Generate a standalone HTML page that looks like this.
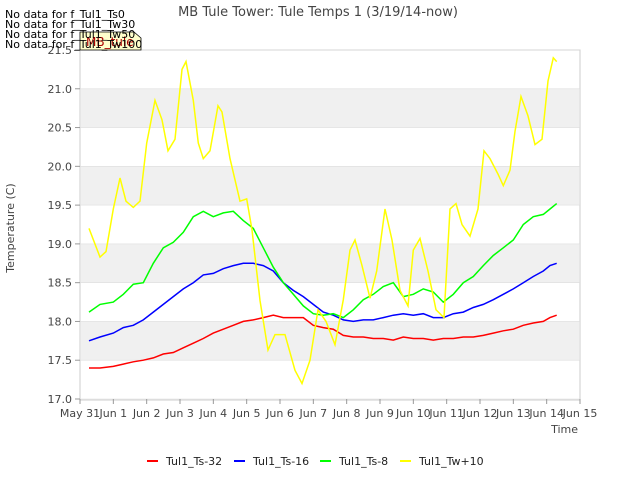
<!DOCTYPE html>
<html><head><meta charset="utf-8"><style>
body{margin:0;background:#fff;font-family:"Liberation Sans","DejaVu Sans",sans-serif;}
svg text{font-family:"DejaVu Sans","Liberation Sans",sans-serif;}
</style></head><body>
<svg id="c" width="640" height="480" xmlns="http://www.w3.org/2000/svg"></svg>
<script>
const yTicks=[17.0,17.5,18.0,18.5,19.0,19.5,20.0,20.5,21.0,21.5];
const xTickLabels=["May 31","Jun 1","Jun 2","Jun 3","Jun 4","Jun 5","Jun 6","Jun 7","Jun 8","Jun 9","Jun 10","Jun 11","Jun 12","Jun 13","Jun 14","Jun 15"];
const tSoil=[0.27,0.6,1.0,1.3,1.6,1.9,2.2,2.5,2.8,3.1,3.4,3.7,4.0,4.3,4.6,4.9,5.2,5.5,5.8,6.1,6.4,6.7,7.0,7.3,7.6,7.9,8.2,8.5,8.8,9.1,9.4,9.7,10.0,10.3,10.6,10.9,11.2,11.5,11.8,12.1,12.4,12.7,13.0,13.3,13.6,13.9,14.1,14.3];
const ts32=[17.4,17.4,17.42,17.45,17.48,17.5,17.53,17.58,17.6,17.66,17.72,17.78,17.85,17.9,17.95,18.0,18.02,18.05,18.08,18.05,18.05,18.05,17.95,17.92,17.9,17.82,17.8,17.8,17.78,17.78,17.76,17.8,17.78,17.78,17.76,17.78,17.78,17.8,17.8,17.82,17.85,17.88,17.9,17.95,17.98,18.0,18.05,18.08];
const ts16=[17.75,17.8,17.85,17.92,17.95,18.02,18.12,18.22,18.32,18.42,18.5,18.6,18.62,18.68,18.72,18.75,18.75,18.72,18.65,18.5,18.4,18.32,18.22,18.12,18.08,18.02,18.0,18.02,18.02,18.05,18.08,18.1,18.08,18.1,18.05,18.05,18.1,18.12,18.18,18.22,18.28,18.35,18.42,18.5,18.58,18.65,18.72,18.75];
const ts8=[18.12,18.22,18.25,18.35,18.48,18.5,18.75,18.95,19.02,19.15,19.35,19.42,19.35,19.4,19.42,19.3,19.2,18.95,18.7,18.5,18.35,18.2,18.1,18.08,18.1,18.05,18.15,18.28,18.35,18.45,18.5,18.32,18.35,18.42,18.38,18.25,18.35,18.5,18.58,18.72,18.85,18.95,19.05,19.25,19.35,19.38,19.45,19.52];
const tWater=[0.27,0.6,0.78,1.0,1.2,1.38,1.6,1.8,2.0,2.25,2.46,2.64,2.85,3.06,3.18,3.4,3.55,3.7,3.9,4.14,4.26,4.5,4.8,5.0,5.16,5.4,5.64,5.85,6.15,6.45,6.66,6.9,7.14,7.38,7.65,7.9,8.1,8.25,8.46,8.7,8.9,9.15,9.36,9.6,9.84,10.0,10.2,10.44,10.68,10.92,11.1,11.28,11.46,11.7,11.94,12.12,12.3,12.54,12.7,12.9,13.05,13.23,13.44,13.65,13.86,14.04,14.2,14.3];
const tw10=[19.2,18.83,18.9,19.45,19.85,19.55,19.47,19.55,20.3,20.85,20.6,20.2,20.35,21.25,21.35,20.85,20.3,20.1,20.2,20.78,20.7,20.1,19.55,19.58,19.18,18.27,17.63,17.83,17.83,17.37,17.2,17.5,18.15,18.0,17.7,18.28,18.92,19.05,18.72,18.3,18.65,19.45,19.05,18.4,18.2,18.92,19.07,18.65,18.15,18.05,19.45,19.52,19.25,19.1,19.45,20.2,20.1,19.9,19.75,19.95,20.45,20.9,20.65,20.28,20.35,21.1,21.4,21.35];
const L=80,R=580,T=50,B=399;
const xs=t=>L+t*(R-L)/15;
const ys=v=>B-(v-17)*(B-T)/4.5;
const svg=document.getElementById('c');
const NS="http://www.w3.org/2000/svg";
function mk(tag,at,txt){const e=document.createElementNS(NS,tag);for(const k in at)e.setAttribute(k,at[k]);if(txt!==undefined)e.textContent=txt;svg.appendChild(e);return e;}
let e;
e=mk('rect',{x:L,y:T,width:R-L,height:B-T+1,fill:'#fff',stroke:'#ccc'});


for(let i=0;i<yTicks.length-1;i++){ if(i%2===1){
 e=mk('rect',{x:L+1,y:ys(yTicks[i+1]),width:R-L-2,height:ys(yTicks[i])-ys(yTicks[i+1]),fill:'#f0f0f0'});
 
 }}
yTicks.forEach(v=>{const y=ys(v);
 e=mk('line',{x1:L,x2:R,y1:y,y2:y,stroke:'#ddd','stroke-width':0.6});
 
 
 e=mk('line',{x1:L-5,x2:L,y1:y,y2:y,stroke:'#999'});
 
 
 e=mk('text',{x:L-8,y:y+4,'text-anchor':'end','font-size':11,fill:'#444'},v.toFixed(1));
 
 });
xTickLabels.forEach((s,i)=>{const x=xs(i);
 e=mk('line',{x1:x,x2:x,y1:B,y2:B+5,stroke:'#999'});
 
 
 e=mk('text',{x:x,y:B+18,'text-anchor':'middle','font-size':11,fill:'#444'},s);
 
 });
function line(tArr,vArr,col,name){
 const d=tArr.map((t,i)=>(i?'L':'M')+xs(t).toFixed(1)+','+ys(vArr[i]).toFixed(1)).join('');
 e=mk('path',{d:d,fill:'none',stroke:col,'stroke-width':1.5});
 
 }
line(tSoil,ts32,'#ff0000','series-ts-32');
line(tSoil,ts16,'#0000ff','series-ts-16');
line(tSoil,ts8,'#00ff00','series-ts-8');
line(tWater,tw10,'#ffff00','series-tw-10');
e=mk('text',{x:318,y:16,'text-anchor':'middle','font-size':13,fill:'#444'},'MB Tule Tower: Tule Temps 1 (3/19/14-now)');


e=mk('text',{x:14,y:228,'text-anchor':'middle','font-size':11,fill:'#444',transform:'rotate(-90 14 228)'},'Temperature (C)');


e=mk('text',{x:578,y:433,'text-anchor':'end','font-size':11,fill:'#444'},'Time');


e=mk('path',{d:'M80,32 L134,32 L141,38 L141,50 L80,50 Z',fill:'#ffffcc',stroke:'#000','stroke-width':0.8});


e=mk('text',{x:86,y:46,'font-size':12,fill:'#aa0000'},'MB_tule');


["No data for f_Tul1_Ts0","No data for f_Tul1_Tw30","No data for f_Tul1_Tw50","No data for f_Tul1_Tw100"].forEach((s,i)=>{
 e=mk('text',{x:5,y:18+i*10,'font-size':11,fill:'#000'},s);
 
 });
const leg=[['Tul1_Ts-32','#ff0000',147],['Tul1_Ts-16','#0000ff',234],['Tul1_Ts-8','#00ff00',320],['Tul1_Tw+10','#ffff00',400]];
leg.forEach(([s,c,x])=>{
 e=mk('line',{x1:x,x2:x+11,y1:461,y2:461,stroke:c,'stroke-width':2});
 
 
 e=mk('text',{x:x+19,y:465,'font-size':11,fill:'#222'},s);
 
 });
</script>
</body></html>
